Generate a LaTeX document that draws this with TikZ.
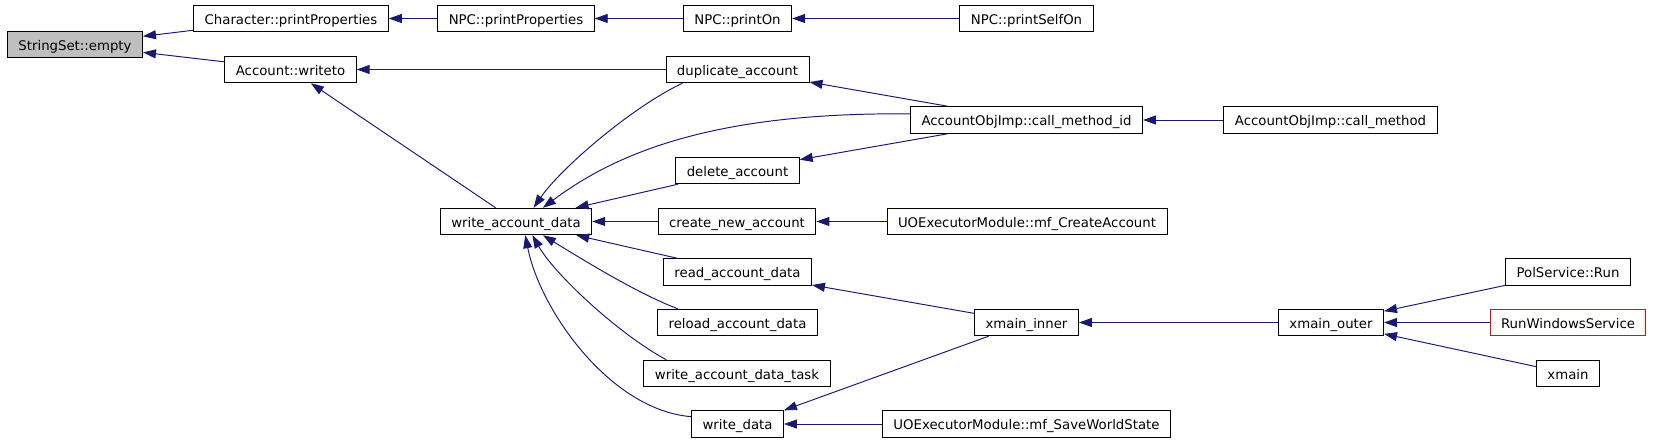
\documentclass[tikz,border=0pt]{standalone}
\usepackage{fontspec}
\setmainfont{DejaVu Sans}
\usepackage{xcolor}
\usepackage{tikz}
\usetikzlibrary{arrows.meta}
\definecolor{edgeblue}{HTML}{191970}
\definecolor{hilite}{HTML}{BFBFBF}

\begin{document}
\begin{tikzpicture}[x=0.02cm, y=-0.02cm,
    fn/.style={draw=black, line width=0.55pt, fill=white, minimum height=0.53cm, inner xsep=0.22cm, inner ysep=0pt,
      text height=0.22cm, text depth=0pt, font=\fontsize{7.56pt}{9pt}\selectfont},
    call/.style={draw=edgeblue, line width=0.55pt, -{Triangle[length=0.26cm, width=0.18cm]}}]
    \useasboundingbox (0,0) rectangle (1653,443);
    % functions
    \node[fn, fill=hilite] (empty) at (75,44.5) {StringSet::empty};
    \node[fn] (charprint) at (291,18.5) {Character::printProperties};
    \node[fn] (writeto) at (290.5,69.5) {Account::writeto};
    \node[fn] (npcprops) at (516,18.5) {NPC::printProperties};
    \node[fn] (npcon) at (737.5,18.5) {NPC::printOn};
    \node[fn] (npcself) at (1026.5,18.5) {NPC::printSelfOn};
    \node[fn] (dupacc) at (737.5,69.5) {duplicate\_account};
    \node[fn] (callid) at (1026.5,120) {AccountObjImp::call\_method\_id};
    \node[fn] (callm) at (1330.5,120) {AccountObjImp::call\_method};
    \node[fn] (delacc) at (737.5,170.5) {delete\_account};
    \node[fn] (wad) at (516,221.5) {write\_account\_data};
    \node[fn] (newacc) at (737,221.5) {create\_new\_account};
    \node[fn] (mfcreate) at (1027,221.5) {UOExecutorModule::mf\_CreateAccount};
    \node[fn] (rad) at (737.5,272) {read\_account\_data};
    \node[fn] (reload) at (737.5,322.5) {reload\_account\_data};
    \node[fn] (wadtask) at (737,373.5) {write\_account\_data\_task};
    \node[fn] (wdata) at (737.5,424) {write\_data};
    \node[fn] (mfsave) at (1026.5,424) {UOExecutorModule::mf\_SaveWorldState};
    \node[fn] (xinner) at (1026.5,322.5) {xmain\_inner};
    \node[fn] (xouter) at (1331,322.5) {xmain\_outer};
    \node[fn] (polrun) at (1568,272) {PolService::Run};
    \node[fn, draw=red] (winsvc) at (1568,322.5) {RunWindowsService};
    \node[fn] (xmain) at (1568,373.5) {xmain};
    % calls
    \draw[call] (charprint) -- (empty);
    \draw[call] (writeto) -- (empty);
    \draw[call] (npcprops) -- (charprint);
    \draw[call] (npcon) -- (npcprops);
    \draw[call] (npcself) -- (npcon);
    \draw[call] (dupacc) -- (writeto);
    \draw[call] (wad) -- (writeto);
    \draw[call] (callid) -- (dupacc);
    \draw[call] (callm) -- (callid);
    \draw[call] (dupacc.194) .. controls (632,107) and (561,168) .. (wad.38);
    \draw[call] (callid.177) .. controls (720,112) and (620,150) .. (wad.27);
    \draw[call] (callid) -- (delacc);
    \draw[call] (delacc) -- (wad);
    \draw[call] (newacc) -- (wad);
    \draw[call] (mfcreate) -- (newacc);
    \draw[call] (rad) -- (wad);
    \draw[call] (xinner) -- (rad);
    \draw[call] (reload.167) .. controls (640,295) and (580,258) .. (wad.333);
    \draw[call] (wadtask.169) .. controls (620,335) and (555,275) .. (wad.320);
    \draw[call] (wdata.171) .. controls (610,410) and (540,310) .. (wad.304);
    \draw[call] (xinner) -- (wdata.north east);
    \draw[call] (mfsave) -- (wdata);
    \draw[call] (xouter) -- (xinner);
    \draw[call] (polrun) -- (xouter);
    \draw[call] (winsvc) -- (xouter);
    \draw[call] (xmain) -- (xouter);
\end{tikzpicture}
\end{document}
